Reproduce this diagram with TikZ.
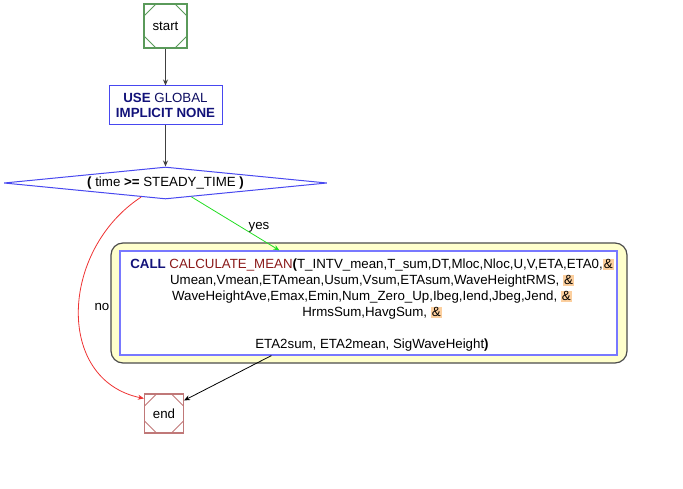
\documentclass[tikz,border=0pt]{standalone}
\usepackage{fontspec}
\setmainfont{Liberation Sans}
\usetikzlibrary{shapes.geometric,arrows.meta,calc}
\definecolor{startgreen}{HTML}{5A9A5A}
\definecolor{endred}{HTML}{C07878}
\definecolor{boxblue}{HTML}{4848F0}
\definecolor{innerblue}{HTML}{7878FF}
\definecolor{kwnavy}{HTML}{12127A}
\definecolor{fnred}{HTML}{8B1A1A}
\definecolor{callfill}{HTML}{FFFFCC}
\definecolor{ampbg}{HTML}{FCCF9E}
\definecolor{yesgreen}{HTML}{22DD22}
\definecolor{nored}{HTML}{EE3333}
\newcommand\ampbox{{\setlength\fboxsep{1pt}\colorbox{ampbg}{\&}}}
\begin{document}
\begin{tikzpicture}[x=1pt,y=-1pt,
  font=\fontsize{13.3}{16}\selectfont,
  term/.style={draw=#1, line width=1.1pt, inner sep=0pt,
    path picture={
      \draw[draw=#1, line width=0.9pt]
        ([xshift=12pt]path picture bounding box.north west) -- ([yshift=-12pt]path picture bounding box.north west)
        ([xshift=-12pt]path picture bounding box.north east) -- ([yshift=-12pt]path picture bounding box.north east)
        ([xshift=12pt]path picture bounding box.south west) -- ([yshift=12pt]path picture bounding box.south west)
        ([xshift=-12pt]path picture bounding box.south east) -- ([yshift=12pt]path picture bounding box.south east);
    }},
  procbox/.style={draw=boxblue, line width=1pt, fill=white, align=center, inner sep=0pt},
  decision/.style={diamond, aspect=10, draw=boxblue, line width=1pt, inner sep=0pt},
  flow/.style={line width=0.8pt, -{Stealth[length=6pt,width=5pt]}},
  lbl/.style={inner sep=1pt}
]
\useasboundingbox (0,0) rectangle (683,489);

\node[term=startgreen, minimum width=43pt, minimum height=44pt] (start) at (165.5,26) {start};
\node[procbox, minimum width=113pt, minimum height=39pt] (use) at (165.5,105.5)
  {\textcolor{kwnavy}{\bfseries USE} \textcolor{kwnavy!80!black}{GLOBAL}\\[-1pt]\textcolor{kwnavy}{\bfseries IMPLICIT NONE}};
\node[decision, minimum width=323pt, minimum height=32pt] (cond) at (165.5,183)
  {{\bfseries (} time {\bfseries >=} STEADY\_TIME {\bfseries )}};

\node[draw=black!70, line width=1.2pt, fill=callfill, rounded corners=12pt,
  minimum width=516pt, minimum height=120pt] (callouter) at (369,303) {};
\node[draw=innerblue, line width=1.2pt, fill=white,
  minimum width=497pt, minimum height=104pt] (call) at (368.5,303) {};
\node[align=center, inner sep=0pt] (calltext) at (372,305)
  {\textcolor{kwnavy}{\bfseries CALL} \textcolor{fnred}{CALCULATE\_MEAN}{\bfseries (}T\_INTV\_mean,T\_sum,DT,Mloc,Nloc,U,V,ETA,ETA0,\ampbox\\
   Umean,Vmean,ETAmean,Usum,Vsum,ETAsum,WaveHeightRMS, \ampbox\\
   WaveHeightAve,Emax,Emin,Num\_Zero\_Up,Ibeg,Iend,Jbeg,Jend, \ampbox\\
   HrmsSum,HavgSum, \ampbox\\[16pt]
   ETA2sum, ETA2mean, SigWaveHeight{\bfseries )}};

\node[term=endred, minimum width=39pt, minimum height=39pt] (endn) at (164,413.5) {end};

\draw[flow, draw=black!75] (start) -- (use);
\draw[flow, draw=black!75] (use) -- (cond);
\draw[flow, draw=yesgreen] ($(cond.south)!0.16!(cond.east)$) -- ($(call.north west)+(160pt,0)$);
\node[lbl] (yeslbl) at (259,227) {yes};
\draw[flow, draw=nored] ($(cond.south)!0.15!(cond.west)$) .. controls (60,250) and (55,380) .. ($(endn.north west)+(0,-5pt)$);
\node[lbl] (nolbl) at (102,307) {no};
\draw[flow, draw=black] ($(call.south west)+(152pt,0)$) -- ($(endn.north east)+(0,-7pt)$);
\end{tikzpicture}
\end{document}
